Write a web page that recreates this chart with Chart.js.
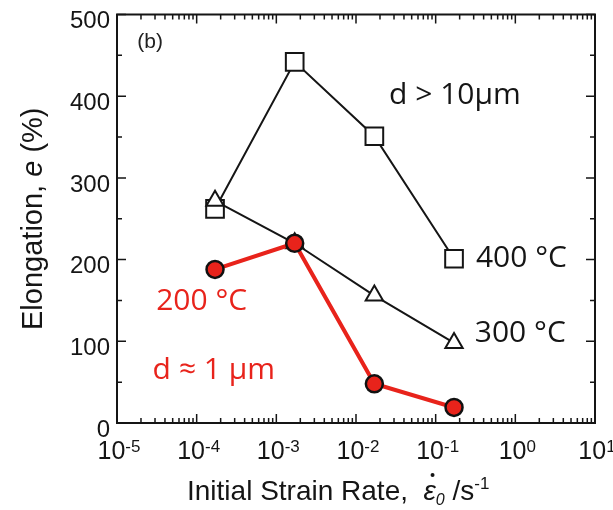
<!DOCTYPE html>
<html>
<head>
<meta charset="utf-8">
<script src="https://cdn.jsdelivr.net/npm/chart.js@4.4.1/dist/chart.umd.min.js"></script>
<style>
  html, body { margin: 0; padding: 0; background: #fff; }
  #wrap { width: 613px; height: 510px; }
</style>
</head>
<body>
<div id="wrap"><canvas id="chart"></canvas></div>
<script>
// Initial strain rate (s^-1)
const strainRates = [1.7e-4, 1.7e-3, 1.7e-2, 1.7e-1];
// Elongation (%) per test temperature
const elong400 = [262, 442, 351, 201];
const elong300 = [272, 220, 156, 98];
const elong200 = [188, 220, 48, 19];
// tick values
const yTicks = [0, 100, 200, 300, 400, 500];
const xDecades = [-5, -4, -3, -2, -1, 0, 1];

const RED = '#e8231b';
const BASE = '"Liberation Sans", Arial, sans-serif';
const NOTE = '"Open Sans", sans-serif';
const INK = '#151515';

const toPoints = ys => strainRates.map((x, i) => ({ x: x, y: ys[i] }));

// Inward ticks, frame, x tick labels, notes and axis titles
const decorPlugin = {
  id: 'decor',
  afterDraw(chart) {
    const { ctx, chartArea: a, scales: { x, y } } = chart;
    ctx.save();
    ctx.strokeStyle = INK;
    ctx.lineWidth = 2;
    ctx.strokeRect(a.left, a.top, a.right - a.left, a.bottom - a.top);

    ctx.lineWidth = 1.5;
    const vTick = (px, len) => {
      ctx.beginPath();
      ctx.moveTo(px, a.bottom); ctx.lineTo(px, a.bottom - len);
      ctx.moveTo(px, a.top); ctx.lineTo(px, a.top + len);
      ctx.stroke();
    };
    const hTick = (py, len) => {
      ctx.beginPath();
      ctx.moveTo(a.left, py); ctx.lineTo(a.left + len, py);
      ctx.moveTo(a.right, py); ctx.lineTo(a.right - len, py);
      ctx.stroke();
    };
    for (let d = -5; d <= 0; d++) {
      for (let m = 1; m <= 9; m++) {
        vTick(x.getPixelForValue(m * Math.pow(10, d)), m === 1 ? 9 : 5);
      }
    }
    vTick(x.getPixelForValue(10), 9);
    for (let v = 0; v <= 500; v += 50) {
      hTick(y.getPixelForValue(v), v % 100 === 0 ? 9 : 5);
    }

    // x tick labels: 10 with raised exponent
    ctx.fillStyle = INK;
    ctx.textBaseline = 'alphabetic';
    ctx.textAlign = 'left';
    xDecades.forEach(d => {
      const px = x.getPixelForValue(Math.pow(10, d));
      ctx.font = '25px ' + BASE;
      const wBase = ctx.measureText('10').width;
      ctx.font = '17px ' + BASE;
      const expTxt = d < 0 ? '-' + (-d) : String(d);
      const wExp = ctx.measureText(expTxt).width;
      const left = px - (wBase + wExp) / 2 + 2;
      ctx.font = '25px ' + BASE;
      ctx.fillText('10', left, 459);
      ctx.font = '17px ' + BASE;
      ctx.fillText(expTxt, left + wBase, 452);
    });

    // notes
    const note = (txt, xv, yv, color, font) => {
      ctx.fillStyle = color;
      ctx.font = font;
      ctx.textAlign = 'left';
      ctx.textBaseline = 'middle';
      ctx.fillText(txt, x.getPixelForValue(xv), y.getPixelForValue(yv));
    };
    note('(b)', 1.8e-5, 466, '#222', '21px ' + BASE);
    note('d > 10µm', 0.026, 401, INK, '30px ' + NOTE);
    note('400 °C', 0.32, 201, INK, '30px ' + NOTE);
    note('300 °C', 0.31, 110, INK, '30px ' + NOTE);
    note('200 °C', 3.1e-5, 149, RED, '30px ' + NOTE);
    note('d ≈ 1 µm', 2.8e-5, 64, RED, '30px ' + NOTE);

    // x title
    ctx.fillStyle = INK;
    ctx.textBaseline = 'alphabetic';
    ctx.textAlign = 'left';
    let cx = 187;
    const base = 500;
    const seg = (txt, font, dy) => {
      ctx.font = font;
      ctx.fillText(txt, cx, base + (dy || 0));
      cx += ctx.measureText(txt).width;
    };
    seg('Initial Strain Rate,  ', '28px ' + BASE);
    const epsX = cx;
    seg('ε', 'italic 28px ' + BASE);
    ctx.beginPath();
    ctx.arc(epsX + 9, base - 25, 2, 0, Math.PI * 2);
    ctx.fill();
    seg('0', 'italic 16px ' + BASE, 5);
    seg(' /s', '28px ' + BASE);
    seg('-1', '17px ' + BASE, -11);

    // y title
    ctx.save();
    ctx.translate(42, 0);
    ctx.rotate(-Math.PI / 2);
    const parts = [['Elongation, ', '29px ' + BASE], ['e', 'italic 29px ' + BASE], [' (%)', '29px ' + BASE]];
    let total = 0;
    parts.forEach(p => { ctx.font = p[1]; total += ctx.measureText(p[0]).width; });
    let ty = -(a.top + a.bottom) / 2 - total / 2;
    parts.forEach(p => {
      ctx.font = p[1];
      ctx.fillText(p[0], ty, 0);
      ty += ctx.measureText(p[0]).width;
    });
    ctx.restore();
    ctx.restore();
  }
};

new Chart(document.getElementById('chart'), {
  type: 'line',
  data: {
    datasets: [
      {
        label: '200 °C',
        data: toPoints(elong200),
        borderColor: RED,
        borderWidth: 4,
        pointStyle: 'circle',
        pointRadius: 8.5,
        pointBackgroundColor: RED,
        pointBorderColor: '#111',
        pointBorderWidth: 2.5
      },
      {
        label: '300 °C',
        data: toPoints(elong300),
        borderColor: INK,
        borderWidth: 2,
        pointStyle: 'triangle',
        pointRadius: 10,
        pointBackgroundColor: '#fff',
        pointBorderColor: INK,
        pointBorderWidth: 2
      },
      {
        label: '400 °C',
        data: toPoints(elong400),
        borderColor: INK,
        borderWidth: 2,
        pointStyle: 'rect',
        pointRadius: 12.5,
        pointBackgroundColor: '#fff',
        pointBorderColor: INK,
        pointBorderWidth: 2
      }
    ]
  },
  options: {
    responsive: true,
    maintainAspectRatio: false,
    animation: false,
    clip: false,
    layout: { padding: { left: 0, right: 18, top: 4, bottom: 0 } },
    plugins: { legend: { display: false }, tooltip: { enabled: false } },
    scales: {
      x: {
        type: 'logarithmic',
        min: 1e-5,
        max: 10,
        grid: { display: false, drawTicks: false },
        border: { display: false },
        ticks: { display: false },
        afterFit: s => { s.height = 87; s.paddingLeft = 0; s.paddingRight = 0; }
      },
      y: {
        min: 0,
        max: 500,
        grid: { display: false, drawTicks: false },
        border: { display: false },
        afterBuildTicks: s => { s.ticks = yTicks.map(v => ({ value: v })); },
        ticks: {
          padding: 7,
          labelOffset: 7,
          color: INK,
          font: { family: BASE, size: 24 }
        },
        afterFit: s => { s.width = 117; s.paddingTop = 0; s.paddingBottom = 0; }
      }
    }
  },
  plugins: [decorPlugin]
});
</script>
</body>
</html>
